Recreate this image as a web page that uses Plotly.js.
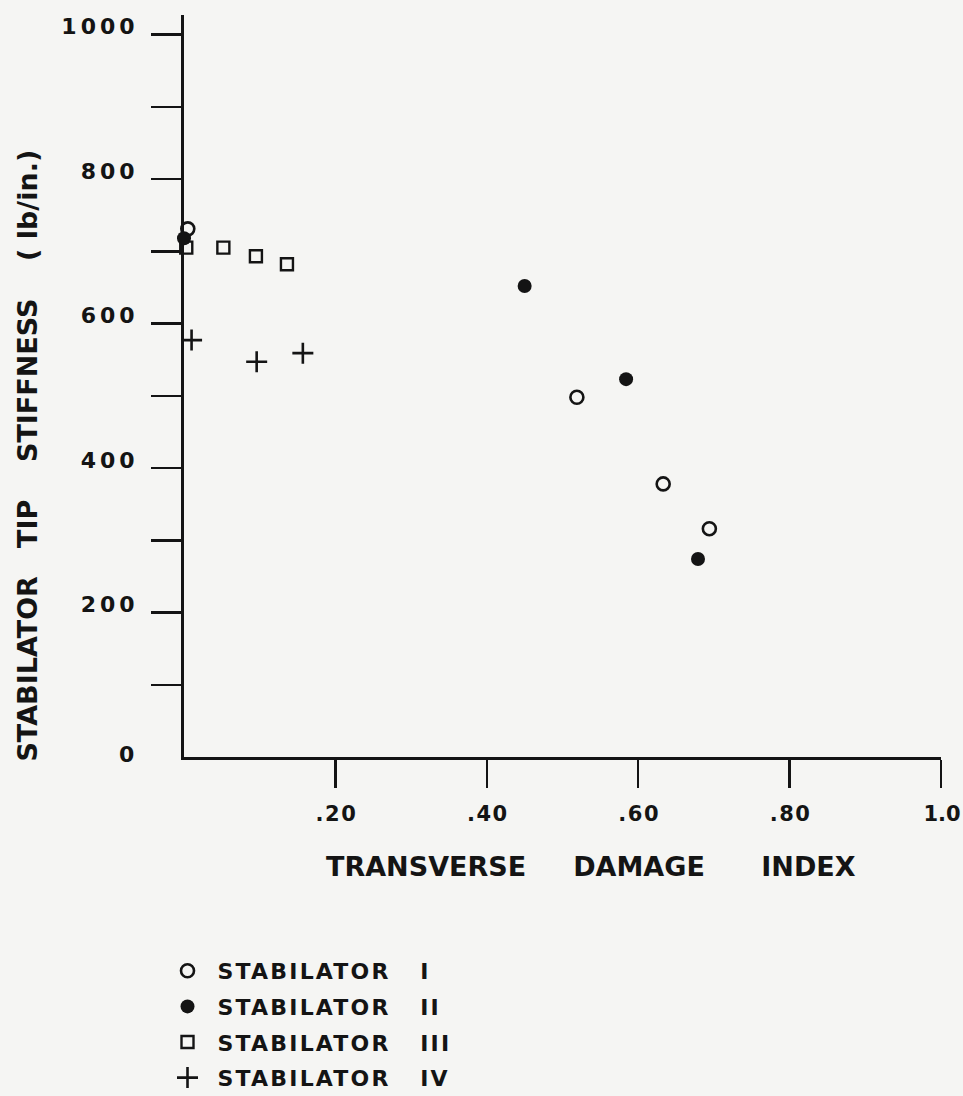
<!DOCTYPE html>
<html>
<head>
<meta charset="utf-8">
<script src="https://cdn.plot.ly/plotly-3.0.1.min.js"></script>
<style>
  body { margin: 0; background: #f5f5f3; }
  .ytick text { letter-spacing: 4px; }
  .xtick text { letter-spacing: 1.5px; }
  .xtick:last-of-type text { letter-spacing: 0; }
  .legendtext { letter-spacing: 2.2px; }
</style>
</head>
<body>
<div id="chart" style="width:963px;height:1096px;"></div>
<script>
// ---- Data ----
const seriesNames = [
  "STABILATOR\u00a0\u00a0\u00a0I",
  "STABILATOR\u00a0\u00a0\u00a0II",
  "STABILATOR\u00a0\u00a0\u00a0III",
  "STABILATOR\u00a0\u00a0\u00a0IV"
];
const xI   = [0.005, 0.519, 0.633, 0.694];
const yI   = [731, 498, 378, 316];
const xII  = [0.0, 0.450, 0.584, 0.679];
const yII  = [718, 652, 523, 274];
const xIII = [0.003, 0.052, 0.095, 0.136];
const yIII = [705, 705, 693, 682];
const xIV  = [0.010, 0.096, 0.157];
const yIV  = [577, 547, 559];

const xTickVals = [0.2, 0.4, 0.6, 0.8, 1.0];
const xTickText = [".20", ".40", ".60", ".80", "1.0"];
const yTickVals = [100, 200, 300, 400, 500, 600, 700, 800, 900, 1000];
const yTickText = ["", "200", "", "400", "", "600", "", "800", "", "1000"];
const yZeroLabel = "0";

const xTitle = "TRANSVERSE\u00a0\u00a0\u00a0\u00a0\u00a0DAMAGE\u00a0\u00a0\u00a0\u00a0\u00a0\u00a0INDEX";
const yTitle = "STABILATOR\u00a0\u00a0\u00a0TIP\u00a0\u00a0\u00a0\u00a0STIFFNESS\u00a0\u00a0\u00a0\u00a0(\u00a0lb/in.)";

// ---- Style ----
const INK = "#141414";
const FONT = "DejaVu Sans";

const traces = [
  { x: xI, y: yI, name: seriesNames[0], legendgroup: "a",
    marker: { symbol: "circle-open", size: 13, color: INK, line: { width: 2.6, color: INK } } },
  { x: xII, y: yII, name: seriesNames[1], legendgroup: "b",
    marker: { symbol: "circle", size: 14, color: INK, line: { width: 0 } } },
  { x: xIII, y: yIII, name: seriesNames[2], legendgroup: "c",
    marker: { symbol: "square-open", size: 12, color: INK, line: { width: 2.4, color: INK } } },
  { x: xIV, y: yIV, name: seriesNames[3], legendgroup: "d",
    marker: { symbol: "cross-thin-open", size: 15, color: INK, line: { width: 2.6, color: INK } } }
].map(t => Object.assign({ type: "scatter", mode: "markers", cliponaxis: false }, t));

const layout = {
  width: 963, height: 1096,
  paper_bgcolor: "#f5f5f3", plot_bgcolor: "#f5f5f3",
  margin: { l: 184, r: 22, t: 15, b: 339, pad: 0, autoexpand: false },
  font: { family: FONT, color: INK },
  xaxis: {
    range: [0, 1.0], showgrid: false, zeroline: false,
    showline: true, linecolor: INK, linewidth: 3,
    ticks: "outside", ticklen: 28, tickwidth: 2.5, tickcolor: INK,
    tickmode: "array", tickvals: xTickVals, ticktext: xTickText,
    tickfont: { family: FONT, size: 21, color: INK, weight: "bold" },
    ticklabelstandoff: 8, ticklabelshift: 1, ticklabeloverflow: "allow"
  },
  yaxis: {
    range: [0, 1027], showgrid: false, zeroline: false,
    showline: true, linecolor: INK, linewidth: 3,
    ticks: "outside", ticklen: 30, tickwidth: 2.5, tickcolor: INK,
    tickmode: "array", tickvals: yTickVals, ticktext: yTickText,
    tickfont: { family: FONT, size: 22, color: INK, weight: "bold" },
    ticklabelstandoff: 8, ticklabelshift: -8, ticklabeloverflow: "allow"
  },
  showlegend: true,
  legend: {
    x: -0.035, xanchor: "left", y: -0.2601, yanchor: "top",
    bgcolor: "rgba(0,0,0,0)", borderwidth: 0,
    itemwidth: 50, tracegroupgap: 4, traceorder: "grouped",
    font: { family: FONT, size: 22, color: INK, weight: "bold" }
  },
  annotations: [
    { text: xTitle, xref: "paper", yref: "paper", x: 0.538, y: -0.148,
      xanchor: "center", yanchor: "middle", showarrow: false,
      font: { family: FONT, size: 27, color: INK, weight: "bold" } },
    { text: yTitle, xref: "paper", yref: "paper", x: -0.2066, y: 0.4057,
      xanchor: "center", yanchor: "middle", textangle: -90, showarrow: false,
      font: { family: FONT, size: 27, color: INK, weight: "bold" } },
    { text: yZeroLabel, xref: "paper", yref: "y", x: -0.063, y: 3,
      xanchor: "right", yanchor: "middle", showarrow: false,
      font: { family: FONT, size: 22, color: INK, weight: "bold" } }
  ]
};

Plotly.newPlot("chart", traces, layout, { displayModeBar: false, staticPlot: true });
</script>
</body>
</html>
